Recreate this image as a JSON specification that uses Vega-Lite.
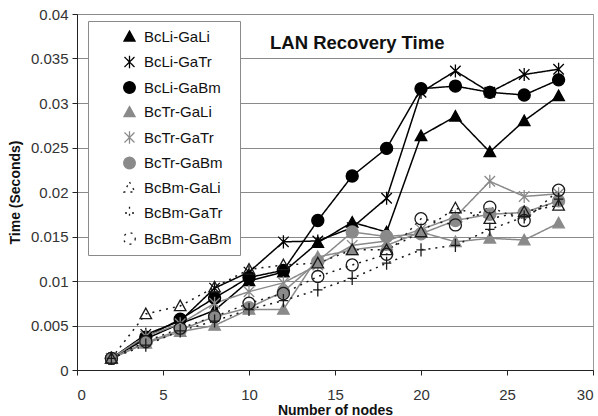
{
  "$schema": "https://vega.github.io/schema/vega-lite/v6.json",
  "width": 516,
  "height": 356,
  "autosize": {"type": "none"},
  "padding": {"left": 77, "top": 14, "right": 5, "bottom": 46},
  "background": "white",
  "title": {
    "text": "LAN Recovery Time",
    "anchor": "start",
    "frame": "group",
    "orient": "top",
    "offset": 0,
    "baseline": "alphabetic",
    "dx": 193,
    "dy": 60,
    "font": "Liberation Sans",
    "fontSize": 18.5,
    "fontWeight": "bold",
    "color": "#111"
  },
  "config": {
    "view": {"stroke": "#999", "strokeWidth": 1},
    "font": "Liberation Sans",
    "axis": {
      "labelFont": "Liberation Sans",
      "labelFontSize": 15,
      "labelColor": "#333",
      "titleFont": "Liberation Sans",
      "titleFontSize": 14,
      "titleFontWeight": "bold",
      "titleColor": "#111",
      "domainColor": "#222",
      "tickColor": "#222",
      "tickSize": 5
    },
    "legend": {
      "title": null,
      "orient": "none",
      "legendX": 11,
      "legendY": 7,
      "padding": 8,
      "fillColor": "white",
      "strokeColor": "#8a8a8a",
      "labelFont": "Liberation Sans",
      "labelFontSize": 15,
      "labelColor": "#111",
      "symbolSize": 100,
      "symbolStrokeWidth": 1.3,
      "rowPadding": 7.5,
      "symbolOffset": 26,
      "labelOffset": 7
    }
  },
  "data": {
    "values": [
      {"series": "BcLi-GaLi", "nodes": 2, "time": 0.0013},
      {"series": "BcLi-GaLi", "nodes": 4, "time": 0.0035},
      {"series": "BcLi-GaLi", "nodes": 6, "time": 0.0052},
      {"series": "BcLi-GaLi", "nodes": 8, "time": 0.0067},
      {"series": "BcLi-GaLi", "nodes": 10, "time": 0.0100},
      {"series": "BcLi-GaLi", "nodes": 12, "time": 0.0110},
      {"series": "BcLi-GaLi", "nodes": 14, "time": 0.0143},
      {"series": "BcLi-GaLi", "nodes": 16, "time": 0.0166},
      {"series": "BcLi-GaLi", "nodes": 18, "time": 0.0155},
      {"series": "BcLi-GaLi", "nodes": 20, "time": 0.0263},
      {"series": "BcLi-GaLi", "nodes": 22, "time": 0.0285},
      {"series": "BcLi-GaLi", "nodes": 24, "time": 0.0245},
      {"series": "BcLi-GaLi", "nodes": 26, "time": 0.0280},
      {"series": "BcLi-GaLi", "nodes": 28, "time": 0.0308},

      {"series": "BcLi-GaTr", "nodes": 2, "time": 0.0013},
      {"series": "BcLi-GaTr", "nodes": 4, "time": 0.0040},
      {"series": "BcLi-GaTr", "nodes": 6, "time": 0.0055},
      {"series": "BcLi-GaTr", "nodes": 8, "time": 0.0092},
      {"series": "BcLi-GaTr", "nodes": 10, "time": 0.0110},
      {"series": "BcLi-GaTr", "nodes": 12, "time": 0.0144},
      {"series": "BcLi-GaTr", "nodes": 14, "time": 0.0145},
      {"series": "BcLi-GaTr", "nodes": 16, "time": 0.0160},
      {"series": "BcLi-GaTr", "nodes": 18, "time": 0.0193},
      {"series": "BcLi-GaTr", "nodes": 20, "time": 0.0312},
      {"series": "BcLi-GaTr", "nodes": 22, "time": 0.0336},
      {"series": "BcLi-GaTr", "nodes": 24, "time": 0.0312},
      {"series": "BcLi-GaTr", "nodes": 26, "time": 0.0332},
      {"series": "BcLi-GaTr", "nodes": 28, "time": 0.0338},

      {"series": "BcLi-GaBm", "nodes": 2, "time": 0.0013},
      {"series": "BcLi-GaBm", "nodes": 4, "time": 0.0037},
      {"series": "BcLi-GaBm", "nodes": 6, "time": 0.0057},
      {"series": "BcLi-GaBm", "nodes": 8, "time": 0.0081},
      {"series": "BcLi-GaBm", "nodes": 10, "time": 0.0104},
      {"series": "BcLi-GaBm", "nodes": 12, "time": 0.0112},
      {"series": "BcLi-GaBm", "nodes": 14, "time": 0.0168},
      {"series": "BcLi-GaBm", "nodes": 16, "time": 0.0218},
      {"series": "BcLi-GaBm", "nodes": 18, "time": 0.0249},
      {"series": "BcLi-GaBm", "nodes": 20, "time": 0.0316},
      {"series": "BcLi-GaBm", "nodes": 22, "time": 0.0319},
      {"series": "BcLi-GaBm", "nodes": 24, "time": 0.0312},
      {"series": "BcLi-GaBm", "nodes": 26, "time": 0.0309},
      {"series": "BcLi-GaBm", "nodes": 28, "time": 0.0326},

      {"series": "BcTr-GaLi", "nodes": 2, "time": 0.0013},
      {"series": "BcTr-GaLi", "nodes": 4, "time": 0.0030},
      {"series": "BcTr-GaLi", "nodes": 6, "time": 0.0043},
      {"series": "BcTr-GaLi", "nodes": 8, "time": 0.0050},
      {"series": "BcTr-GaLi", "nodes": 10, "time": 0.0068},
      {"series": "BcTr-GaLi", "nodes": 12, "time": 0.0068},
      {"series": "BcTr-GaLi", "nodes": 14, "time": 0.0127},
      {"series": "BcTr-GaLi", "nodes": 16, "time": 0.0135},
      {"series": "BcTr-GaLi", "nodes": 18, "time": 0.0140},
      {"series": "BcTr-GaLi", "nodes": 20, "time": 0.0155},
      {"series": "BcTr-GaLi", "nodes": 22, "time": 0.0144},
      {"series": "BcTr-GaLi", "nodes": 24, "time": 0.0148},
      {"series": "BcTr-GaLi", "nodes": 26, "time": 0.0146},
      {"series": "BcTr-GaLi", "nodes": 28, "time": 0.0165},

      {"series": "BcTr-GaTr", "nodes": 2, "time": 0.0013},
      {"series": "BcTr-GaTr", "nodes": 4, "time": 0.0038},
      {"series": "BcTr-GaTr", "nodes": 6, "time": 0.0052},
      {"series": "BcTr-GaTr", "nodes": 8, "time": 0.0075},
      {"series": "BcTr-GaTr", "nodes": 10, "time": 0.0088},
      {"series": "BcTr-GaTr", "nodes": 12, "time": 0.0098},
      {"series": "BcTr-GaTr", "nodes": 14, "time": 0.0118},
      {"series": "BcTr-GaTr", "nodes": 16, "time": 0.0140},
      {"series": "BcTr-GaTr", "nodes": 18, "time": 0.0145},
      {"series": "BcTr-GaTr", "nodes": 20, "time": 0.0158},
      {"series": "BcTr-GaTr", "nodes": 22, "time": 0.0172},
      {"series": "BcTr-GaTr", "nodes": 24, "time": 0.0212},
      {"series": "BcTr-GaTr", "nodes": 26, "time": 0.0195},
      {"series": "BcTr-GaTr", "nodes": 28, "time": 0.0198},

      {"series": "BcTr-GaBm", "nodes": 2, "time": 0.0013},
      {"series": "BcTr-GaBm", "nodes": 4, "time": 0.0031},
      {"series": "BcTr-GaBm", "nodes": 6, "time": 0.0045},
      {"series": "BcTr-GaBm", "nodes": 8, "time": 0.0060},
      {"series": "BcTr-GaBm", "nodes": 10, "time": 0.0070},
      {"series": "BcTr-GaBm", "nodes": 12, "time": 0.0088},
      {"series": "BcTr-GaBm", "nodes": 14, "time": 0.0122},
      {"series": "BcTr-GaBm", "nodes": 16, "time": 0.0155},
      {"series": "BcTr-GaBm", "nodes": 18, "time": 0.0150},
      {"series": "BcTr-GaBm", "nodes": 20, "time": 0.0153},
      {"series": "BcTr-GaBm", "nodes": 22, "time": 0.0168},
      {"series": "BcTr-GaBm", "nodes": 24, "time": 0.0175},
      {"series": "BcTr-GaBm", "nodes": 26, "time": 0.0177},
      {"series": "BcTr-GaBm", "nodes": 28, "time": 0.0190},

      {"series": "BcBm-GaLi", "nodes": 2, "time": 0.0013},
      {"series": "BcBm-GaLi", "nodes": 4, "time": 0.0063},
      {"series": "BcBm-GaLi", "nodes": 6, "time": 0.0072},
      {"series": "BcBm-GaLi", "nodes": 8, "time": 0.0093},
      {"series": "BcBm-GaLi", "nodes": 10, "time": 0.0113},
      {"series": "BcBm-GaLi", "nodes": 12, "time": 0.0118},
      {"series": "BcBm-GaLi", "nodes": 14, "time": 0.0120},
      {"series": "BcBm-GaLi", "nodes": 16, "time": 0.0135},
      {"series": "BcBm-GaLi", "nodes": 18, "time": 0.0135},
      {"series": "BcBm-GaLi", "nodes": 20, "time": 0.0155},
      {"series": "BcBm-GaLi", "nodes": 22, "time": 0.0182},
      {"series": "BcBm-GaLi", "nodes": 24, "time": 0.0170},
      {"series": "BcBm-GaLi", "nodes": 26, "time": 0.0178},
      {"series": "BcBm-GaLi", "nodes": 28, "time": 0.0185},

      {"series": "BcBm-GaTr", "nodes": 2, "time": 0.0013},
      {"series": "BcBm-GaTr", "nodes": 4, "time": 0.0028},
      {"series": "BcBm-GaTr", "nodes": 6, "time": 0.0044},
      {"series": "BcBm-GaTr", "nodes": 8, "time": 0.0055},
      {"series": "BcBm-GaTr", "nodes": 10, "time": 0.0068},
      {"series": "BcBm-GaTr", "nodes": 12, "time": 0.0078},
      {"series": "BcBm-GaTr", "nodes": 14, "time": 0.0090},
      {"series": "BcBm-GaTr", "nodes": 16, "time": 0.0103},
      {"series": "BcBm-GaTr", "nodes": 18, "time": 0.0120},
      {"series": "BcBm-GaTr", "nodes": 20, "time": 0.0135},
      {"series": "BcBm-GaTr", "nodes": 22, "time": 0.0140},
      {"series": "BcBm-GaTr", "nodes": 24, "time": 0.0158},
      {"series": "BcBm-GaTr", "nodes": 26, "time": 0.0172},
      {"series": "BcBm-GaTr", "nodes": 28, "time": 0.0192},

      {"series": "BcBm-GaBm", "nodes": 2, "time": 0.0013},
      {"series": "BcBm-GaBm", "nodes": 4, "time": 0.0032},
      {"series": "BcBm-GaBm", "nodes": 6, "time": 0.0047},
      {"series": "BcBm-GaBm", "nodes": 8, "time": 0.0060},
      {"series": "BcBm-GaBm", "nodes": 10, "time": 0.0075},
      {"series": "BcBm-GaBm", "nodes": 12, "time": 0.0086},
      {"series": "BcBm-GaBm", "nodes": 14, "time": 0.0105},
      {"series": "BcBm-GaBm", "nodes": 16, "time": 0.0118},
      {"series": "BcBm-GaBm", "nodes": 18, "time": 0.0130},
      {"series": "BcBm-GaBm", "nodes": 20, "time": 0.0170},
      {"series": "BcBm-GaBm", "nodes": 22, "time": 0.0163},
      {"series": "BcBm-GaBm", "nodes": 24, "time": 0.0183},
      {"series": "BcBm-GaBm", "nodes": 26, "time": 0.0168},
      {"series": "BcBm-GaBm", "nodes": 28, "time": 0.0202}
    ]
  },
  "encoding": {
    "x": {
      "field": "nodes",
      "type": "quantitative",
      "title": "Number of nodes",
      "scale": {"domain": [0, 30], "nice": false, "zero": true},
      "axis": {"values": [0, 5, 10, 15, 20, 25, 30], "grid": false, "labelPadding": 12, "titlePadding": 1}
    },
    "y": {
      "field": "time",
      "type": "quantitative",
      "title": "Time (Seconds)",
      "scale": {"domain": [0, 0.04], "nice": false},
      "axis": {
        "values": [0, 0.005, 0.01, 0.015, 0.02, 0.025, 0.03, 0.035, 0.04],
        "format": "~g",
        "grid": true,
        "gridColor": "#8a8a8a",
        "gridWidth": 1,
        "labelPadding": 4,
        "titlePadding": 8
      }
    }
  },
  "layer": [
    {
      "mark": {"type": "line", "strokeWidth": 1.5},
      "encoding": {
        "detail": {"field": "series", "type": "nominal"},
        "stroke": {
          "field": "series",
          "type": "nominal",
          "scale": {
            "domain": ["BcLi-GaLi", "BcLi-GaTr", "BcLi-GaBm", "BcTr-GaLi", "BcTr-GaTr", "BcTr-GaBm", "BcBm-GaLi", "BcBm-GaTr", "BcBm-GaBm"],
            "range": ["#000000", "#000000", "#000000", "#8a8a8a", "#8a8a8a", "#8a8a8a", "#1a1a1a", "#1a1a1a", "#1a1a1a"]
          }
        },
        "strokeDash": {
          "field": "series",
          "type": "nominal",
          "scale": {
            "domain": ["BcLi-GaLi", "BcLi-GaTr", "BcLi-GaBm", "BcTr-GaLi", "BcTr-GaTr", "BcTr-GaBm", "BcBm-GaLi", "BcBm-GaTr", "BcBm-GaBm"],
            "range": [[1, 0], [1, 0], [1, 0], [1, 0], [1, 0], [1, 0], [2, 5], [2, 5], [2, 5]]
          }
        }
      }
    },
    {
      "mark": {"type": "point", "filled": true, "size": 110, "strokeWidth": 1.3, "opacity": 1},
      "encoding": {
        "shape": {
          "field": "series",
          "type": "nominal",
          "scale": {
            "domain": ["BcLi-GaLi", "BcLi-GaTr", "BcLi-GaBm", "BcTr-GaLi", "BcTr-GaTr", "BcTr-GaBm", "BcBm-GaLi", "BcBm-GaTr", "BcBm-GaBm"],
            "range": [
              "M0,-1.1L1.1,0.9L-1.1,0.9Z",
              "M-1,-1L1,1M-1,1L1,-1M0,-1.25L0,1.25",
              "M1.15,0A1.15,1.15 0 1,1 -1.15,0A1.15,1.15 0 1,1 1.15,0Z",
              "M0,-1.1L1.1,0.9L-1.1,0.9Z",
              "M-1,-1L1,1M-1,1L1,-1M0,-1.25L0,1.25",
              "M1.15,0A1.15,1.15 0 1,1 -1.15,0A1.15,1.15 0 1,1 1.15,0Z",
              "M0,-1.1L1.1,0.9L-1.1,0.9Z",
              "M-0.9,0L0.9,0M0,-1.25L0,1.25",
              "M1.15,0A1.15,1.15 0 1,1 -1.15,0A1.15,1.15 0 1,1 1.15,0Z"
            ]
          }
        },
        "fill": {
          "field": "series",
          "type": "nominal",
          "scale": {
            "domain": ["BcLi-GaLi", "BcLi-GaTr", "BcLi-GaBm", "BcTr-GaLi", "BcTr-GaTr", "BcTr-GaBm", "BcBm-GaLi", "BcBm-GaTr", "BcBm-GaBm"],
            "range": ["#000000", "transparent", "#000000", "#8a8a8a", "transparent", "#8a8a8a", "transparent", "transparent", "transparent"]
          }
        },
        "stroke": {
          "field": "series",
          "type": "nominal"
        }
      }
    }
  ]
}
